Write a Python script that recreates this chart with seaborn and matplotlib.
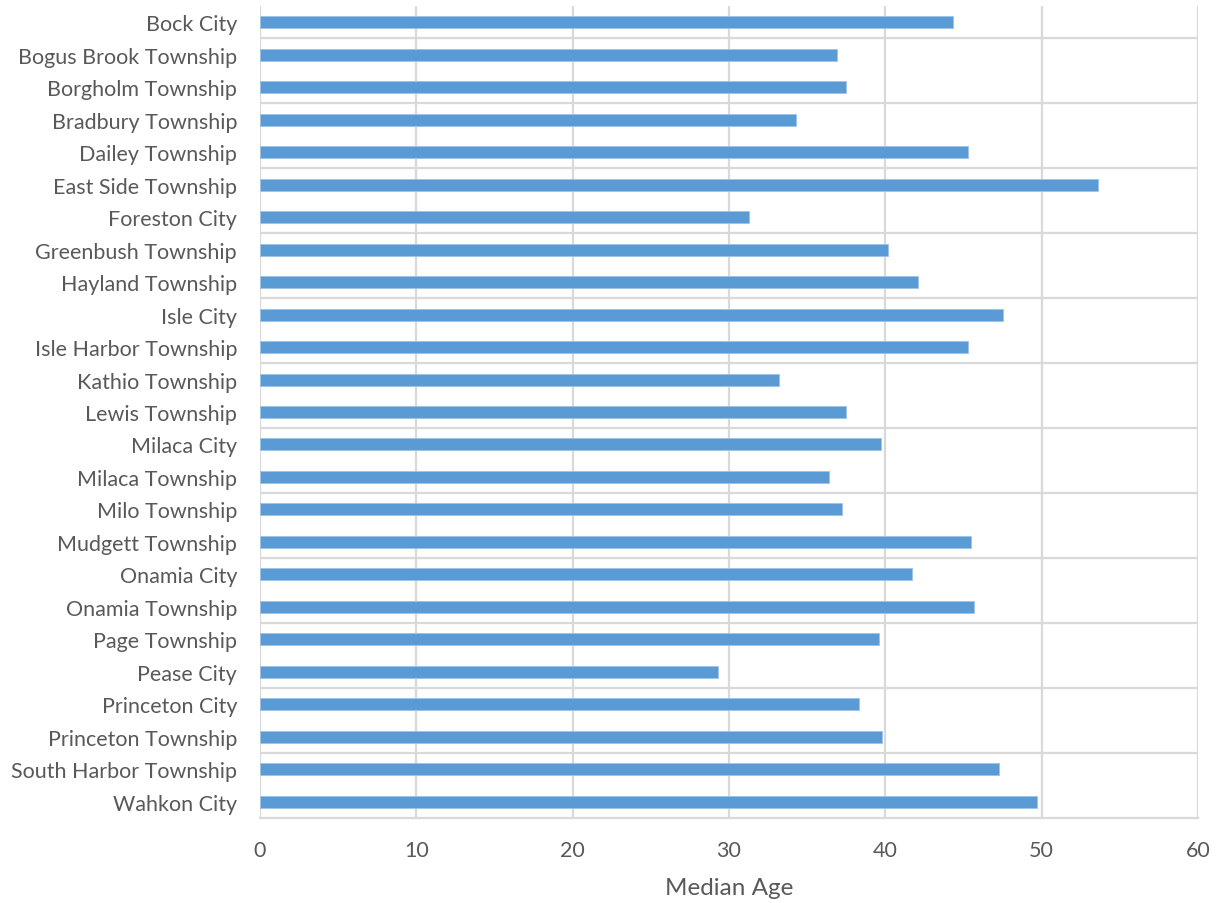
import matplotlib
matplotlib.use("Agg")
import matplotlib.pyplot as plt
import seaborn as sns
import pandas as pd

places = [
    "Bock City", "Bogus Brook Township", "Borgholm Township", "Bradbury Township",
    "Dailey Township", "East Side Township", "Foreston City", "Greenbush Township",
    "Hayland Township", "Isle City", "Isle Harbor Township", "Kathio Township",
    "Lewis Township", "Milaca City", "Milaca Township", "Milo Township",
    "Mudgett Township", "Onamia City", "Onamia Township", "Page Township",
    "Pease City", "Princeton City", "Princeton Township", "South Harbor Township",
    "Wahkon City",
]
median_age = [
    44.3, 36.9, 37.5, 34.3, 45.3, 53.6, 31.3, 40.2, 42.1, 47.5, 45.3, 33.2, 37.5,
    39.7, 36.4, 37.2, 45.5, 41.7, 45.7, 39.6, 29.3, 38.3, 39.8, 47.3, 49.7,
]
x_ticks = [0, 10, 20, 30, 40, 50, 60]

df = pd.DataFrame({"place": places, "age": median_age})

sns.set_style("white")
plt.rcParams["font.family"] = ["Lato", "DejaVu Sans"]

fig = plt.figure(figsize=(12.22, 9.04), dpi=100)
ax = fig.add_axes([260 / 1222, 1 - 819 / 904, (1198 - 260) / 1222, (819 - 7) / 904])

grid_c = "#D9D9D9"
text_c = "#595959"

sns.barplot(data=df, x="age", y="place", orient="h", color="#5B9BD5",
            saturation=1, width=0.37, edgecolor="#9DC3E6", linewidth=0.6,
            ax=ax, zorder=3)

ax.set_xlim(0, 60)
ax.set_ylim(len(places) - 0.5, -0.5)
ax.set_xticks(x_ticks)
ax.set_xticklabels([str(t) for t in x_ticks])

# vertical value gridlines
for t in x_ticks:
    ax.axvline(t, color=grid_c, lw=1.6, zorder=1)
# category separators every second category
ax.set_yticks([i + 0.5 for i in range(0, len(places) - 1, 2)], minor=True)
ax.grid(which="minor", axis="y", color=grid_c, lw=1.6, zorder=1)
ax.grid(which="major", axis="y", visible=False)

for side in ["top", "right", "left"]:
    ax.spines[side].set_visible(False)
ax.spines["bottom"].set_color(grid_c)
ax.spines["bottom"].set_linewidth(1.6)

ax.tick_params(axis="both", which="both", length=0)
ax.tick_params(axis="y", labelsize=15.5, labelcolor=text_c, pad=16.5)
ax.tick_params(axis="x", labelsize=15.5, labelcolor=text_c, pad=16)

ax.set_ylabel("")
ax.set_xlabel("Median Age", fontsize=17.5, color=text_c, labelpad=12)

fig.savefig("out.png", dpi=100)
